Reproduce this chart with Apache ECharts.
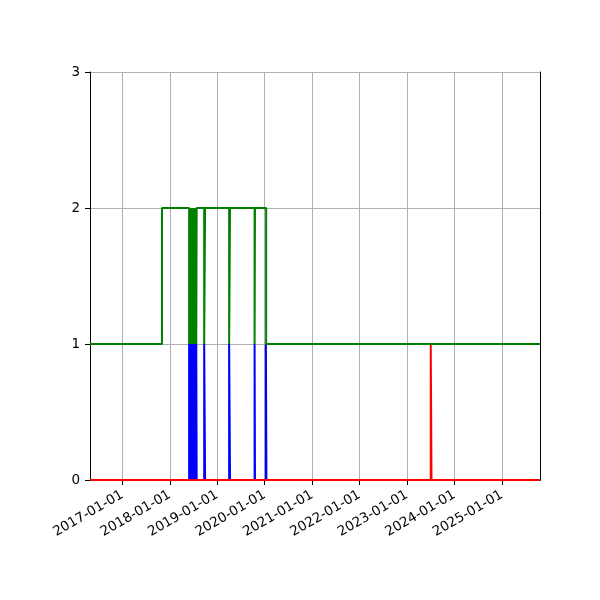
<!DOCTYPE html>
<html>
	<head>
		<meta charset="utf-8" />
		<title>steps</title>
		<script src="https://cdn.jsdelivr.net/npm/echarts@6/dist/echarts.min.js"></script>
		<style>
			html, body { margin: 0; padding: 0; background: #fff; }
		</style>
	</head>

	<body>
		<div id="chart" style="width:600px;height:600px;"></div>
	</body>

	<script type="text/javascript">

	// axis range
	var xMin = '2016-04-27';
	var xMax = '2025-10-21';
	var yTicks = [0, 1, 2, 3];

	// green series: [date, value], value holds until next date
	var greenSteps = [
		['2016-04-27', 1],
		['2017-11-02', 2],
		['2018-05-30', 1], ['2018-06-01', 2],
		['2018-06-04', 1], ['2018-06-06', 2],
		['2018-06-09', 1], ['2018-06-11', 2],
		['2018-06-14', 1], ['2018-06-16', 2],
		['2018-06-19', 1], ['2018-06-21', 2],
		['2018-06-24', 1], ['2018-06-26', 2],
		['2018-06-29', 1], ['2018-07-01', 2],
		['2018-07-04', 1], ['2018-07-06', 2],
		['2018-07-09', 1], ['2018-07-11', 2],
		['2018-07-14', 1], ['2018-07-16', 2],
		['2018-07-19', 1], ['2018-07-21', 2],
		['2018-07-24', 1], ['2018-07-27', 2],
		['2018-09-23', 1], ['2018-09-30', 2],
		['2019-04-03', 1], ['2019-04-10', 2],
		['2019-10-16', 1], ['2019-10-19', 2],
		['2020-01-13', 1],
		['2025-10-21', 1]
	];

	// blue series
	var blueSteps = [
		['2016-04-27', 0],
		['2018-05-30', 1], ['2018-06-01', 0],
		['2018-06-04', 1], ['2018-06-06', 0],
		['2018-06-09', 1], ['2018-06-11', 0],
		['2018-06-14', 1], ['2018-06-16', 0],
		['2018-06-19', 1], ['2018-06-21', 0],
		['2018-06-24', 1], ['2018-06-26', 0],
		['2018-06-29', 1], ['2018-07-01', 0],
		['2018-07-04', 1], ['2018-07-06', 0],
		['2018-07-09', 1], ['2018-07-11', 0],
		['2018-07-14', 1], ['2018-07-16', 0],
		['2018-07-19', 1], ['2018-07-21', 0],
		['2018-07-24', 1], ['2018-07-27', 0],
		['2018-09-23', 1], ['2018-09-30', 0],
		['2019-04-03', 1], ['2019-04-10', 0],
		['2019-10-16', 1], ['2019-10-19', 0],
		['2020-01-11', 1], ['2020-01-15', 0],
		['2025-10-21', 0]
	];

	// red series
	var redSteps = [
		['2016-04-27', 0],
		['2023-07-03', 1],
		['2023-07-09', 0],
		['2025-10-21', 0]
	];

	var font = 'DejaVu Sans';

	var myChart = echarts.init(document.getElementById('chart'));

	function stepLine(data, color, z) {
		return {
			type: 'line',
			step: 'end',
			data: data,
			showSymbol: false,
			symbol: 'none',
			z: z,
			lineStyle: { color: color, width: 2 },
			itemStyle: { color: color }
		};
	}

	var black = { show: true, lineStyle: { color: '#000', width: 1 } };

	option = {
		animation: false,
		backgroundColor: '#fff',
		grid: {
			left: 90, right: 60, top: 72, bottom: 120,
			containLabel: false
		},
		xAxis: [{
			type: 'time',
			min: xMin,
			max: xMax,
			minInterval: 365 * 24 * 3600 * 1000,
			maxInterval: 366 * 24 * 3600 * 1000,
			axisLine: black,
			axisTick: { show: true, length: 5, lineStyle: { color: '#000', width: 1 } },
			splitLine: { show: true, lineStyle: { color: '#b0b0b0', width: 1 } },
			axisLabel: {
				rotate: 30,
				margin: 14,
				color: '#000',
				fontFamily: font,
				fontSize: 13.5,
				hideOverlap: false,
				formatter: function (v) {
					return echarts.time.format(v, '{yyyy}-{MM}-{dd}', false);
				}
			}
		}, {
			// top frame line
			type: 'time',
			position: 'top',
			min: xMin,
			max: xMax,
			z: 1,
			axisLine: black,
			axisTick: { show: false },
			axisLabel: { show: false },
			splitLine: { show: false }
		}],
		yAxis: [{
			type: 'value',
			min: yTicks[0],
			max: yTicks[yTicks.length - 1],
			interval: 1,
			axisLine: black,
			axisTick: { show: true, length: 5, lineStyle: { color: '#000', width: 1 } },
			splitLine: { show: true, lineStyle: { color: '#b0b0b0', width: 1 } },
			axisLabel: {
				margin: 10,
				color: '#000',
				fontFamily: font,
				fontSize: 13.5
			}
		}, {
			// right frame line
			type: 'value',
			position: 'right',
			min: yTicks[0],
			max: yTicks[yTicks.length - 1],
			z: 1,
			axisLine: black,
			axisTick: { show: false },
			axisLabel: { show: false },
			splitLine: { show: false }
		}],
		series: [
			stepLine(blueSteps, '#0000ff', 2),
			stepLine(redSteps, '#ff0000', 3),
			stepLine(greenSteps, '#008000', 4)
		]
	};

	myChart.setOption(option);

	</script>
</html>
